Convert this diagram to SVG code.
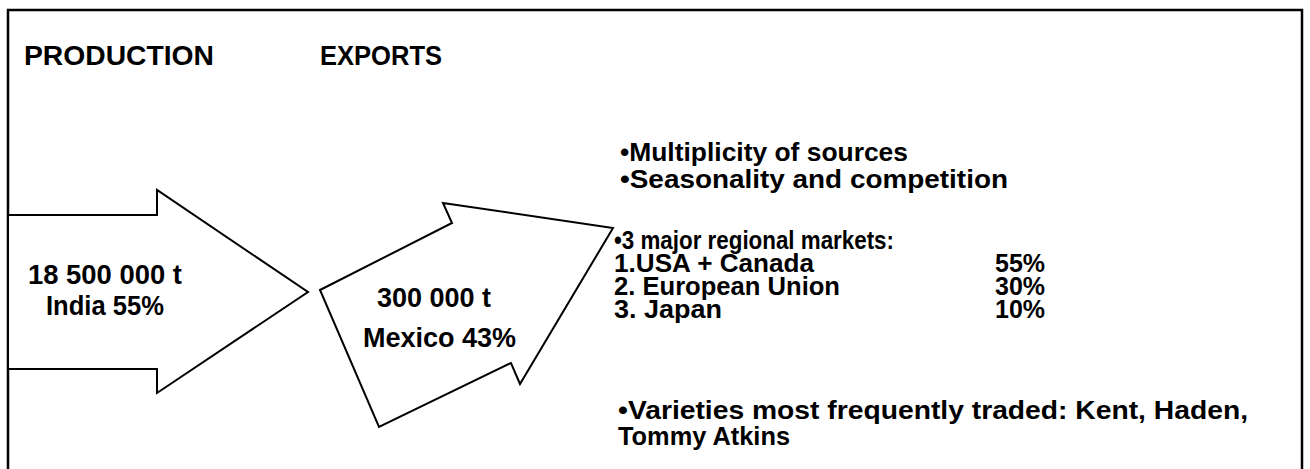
<svg xmlns="http://www.w3.org/2000/svg" width="1310" height="469" viewBox="0 0 1310 469">
<style>
text{font-family:"Liberation Sans",Arial,sans-serif;font-weight:bold;fill:#000}
.t{font-size:27px}
.b{font-size:26px}
.m{font-size:25px}
.arrow{fill:#fff;stroke:#000;stroke-width:2;stroke-linejoin:miter}
</style>
<rect x="0" y="0" width="1310" height="469" fill="#fff"/>
<rect id="frame" x="8" y="10" width="1294" height="470" fill="none" stroke="#000" stroke-width="2.5"/>
<g id="titles">
<text class="t" x="24" y="65" textLength="190" lengthAdjust="spacingAndGlyphs">PRODUCTION</text>
<text class="t" x="320" y="65" textLength="122" lengthAdjust="spacingAndGlyphs">EXPORTS</text>
</g>
<g id="production">
<polygon class="arrow" points="8,215 157,215 157,190 308,292 157,393 157,369 8,369"/>
<text class="t" x="28" y="284" textLength="154" lengthAdjust="spacingAndGlyphs">18 500 000 t</text>
<text class="t" x="46" y="315" textLength="118" lengthAdjust="spacingAndGlyphs">India 55%</text>
</g>
<g id="exports">
<polygon class="arrow" points="320,290 452,223 443,203 613,228 520,384 511,363 379,427"/>
<text class="t" x="377" y="307">300 000 t</text>
<text class="t" x="363" y="347">Mexico 43%</text>
</g>
<g id="notes">
<text class="b" x="620" y="161" textLength="288" lengthAdjust="spacingAndGlyphs">•Multiplicity of sources</text>
<text class="b" x="620" y="188" textLength="388" lengthAdjust="spacingAndGlyphs">•Seasonality and competition</text>
<text class="m" x="614" y="249" textLength="280" lengthAdjust="spacingAndGlyphs">•3 major regional markets:</text>
<text class="m" x="614" y="272" textLength="200" lengthAdjust="spacingAndGlyphs">1.USA + Canada</text>
<text class="m" x="995" y="272">55%</text>
<text class="m" x="614" y="295" textLength="226" lengthAdjust="spacingAndGlyphs">2. European Union</text>
<text class="m" x="995" y="295">30%</text>
<text class="m" x="614" y="318" textLength="108" lengthAdjust="spacingAndGlyphs">3. Japan</text>
<text class="m" x="995" y="318">10%</text>
<text class="b" x="618" y="419" textLength="630" lengthAdjust="spacingAndGlyphs">•Varieties most frequently traded: Kent, Haden,</text>
<text class="b" x="618" y="445" textLength="172" lengthAdjust="spacingAndGlyphs">Tommy Atkins</text>
</g>
</svg>
